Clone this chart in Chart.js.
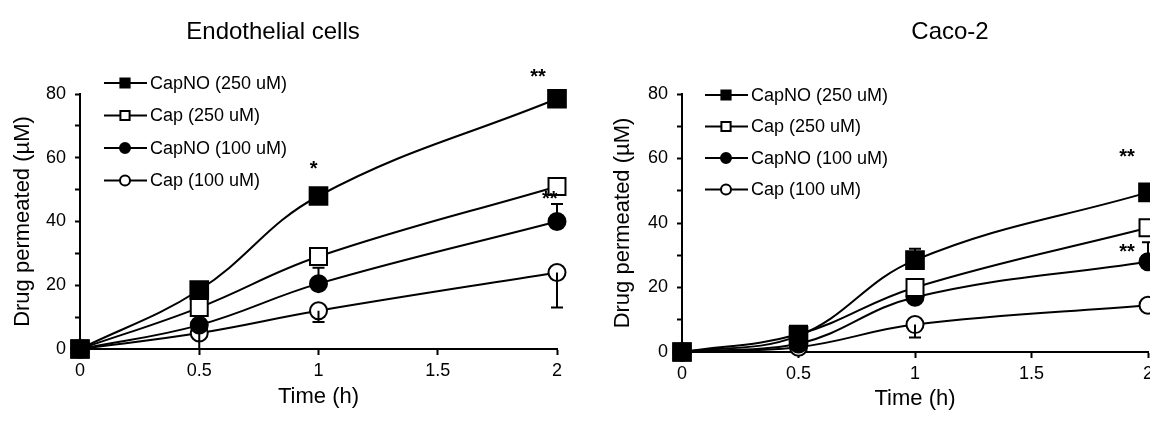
<!DOCTYPE html>
<html>
<head>
<meta charset="utf-8">
<script src="https://cdn.jsdelivr.net/npm/chart.js@4.4.1/dist/chart.umd.min.js"></script>
<style>
  html, body { margin: 0; padding: 0; background: #fff; overflow: hidden; width: 1150px; height: 423px; }
  #wrap { position: relative; width: 1150px; height: 423px; overflow: hidden; }
  canvas { position: absolute; top: 0; }
  #left { left: 0; }
  #right { left: 580px; }
</style>
</head>
<body>
<div id="wrap">
  <canvas id="left" width="580" height="423"></canvas>
  <canvas id="right" width="620" height="423"></canvas>
</div>
<script>
// shared
const times = [0, 0.5, 1, 2];
const seriesNames = ['CapNO (250 uM)', 'Cap (250 uM)', 'CapNO (100 uM)', 'Cap (100 uM)'];
const xTicks = [0, 0.5, 1, 1.5, 2];
const yLabelStep = 20;

// Endothelial cells
const endoCapNO250 = [0, 18.5, 48, 78.5];
const endoCap250 = [0, 13, 29, 51];
const endoCapNO100 = [0, 7.5, 20.5, 40];
const endoCap100 = [0, 5, 12, 24];
const endoCapNO100Upper = [null, null, 25.5, 45.5];
const endoCap100Lower = [null, 0, 8.5, 13];
const endoStars = [
    { x: 0.98, y: 58, text: '*' },
    { x: 1.92, y: 87, text: '**' },
    { x: 1.97, y: 48.5, text: '**' },
];

// Caco-2
const cacoCapNO250 = [0, 5, 28.5, 49.5];
const cacoCap250 = [0, 5.5, 20, 38.5];
const cacoCapNO100 = [0, 2.5, 17, 28];
const cacoCap100 = [0, 1.5, 8.5, 14.5];
const cacoCapNO250Upper = [null, null, 32, null];
const cacoCapNO100Upper = [null, null, null, 34];
const cacoCap100Lower = [null, null, 4.5, null];
const cacoStars = [
    { x: 1.91, y: 62, text: '**' },
    { x: 1.91, y: 32.5, text: '**' },
];

const FONT = "'Liberation Sans', Arial, sans-serif";

const markerStyles = [
    { pointStyle: 'rect', fill: '#000', radius: 12.5, legendRadius: 6.5 },
    { pointStyle: 'rect', fill: '#fff', radius: 12, legendRadius: 6.5 },
    { pointStyle: 'circle', fill: '#000', radius: 8.5, legendRadius: 5 },
    { pointStyle: 'circle', fill: '#fff', radius: 8.5, legendRadius: 5 },
];

function makeDatasets(values, uppers, lowers) {
    return values.map((vals, i) => {
        const m = markerStyles[i];
        return {
            label: seriesNames[i],
            data: times.map((t, j) => ({ x: t, y: vals[j] })),
            borderColor: '#000',
            borderWidth: 2,
            tension: 0.4,
            pointStyle: m.pointStyle,
            pointRadius: m.radius,
            pointBackgroundColor: m.fill,
            pointBorderColor: '#000',
            pointBorderWidth: 2,
            clip: false,
            errUpper: uppers[i] || null,
            errLower: lowers[i] || null,
        };
    });
}

const decorPlugin = {
    id: 'decor',
    afterDatasetsDraw(chart, args, opts) {
        const ctx = chart.ctx;
        const xs = chart.scales.x;
        const ys = chart.scales.y;
        ctx.save();
        ctx.strokeStyle = '#000';
        ctx.lineWidth = 2;
        // error bars
        chart.data.datasets.forEach((ds) => {
            [ds.errUpper, ds.errLower].forEach((arr) => {
                if (!arr) return;
                arr.forEach((e, j) => {
                    if (e === null) return;
                    const px = xs.getPixelForValue(times[j]);
                    const py = ys.getPixelForValue(ds.data[j].y);
                    const pe = ys.getPixelForValue(e);
                    ctx.beginPath();
                    ctx.moveTo(px, py);
                    ctx.lineTo(px, pe);
                    ctx.moveTo(px - 6, pe);
                    ctx.lineTo(px + 6, pe);
                    ctx.stroke();
                });
            });
        });
        // significance stars
        ctx.fillStyle = '#000';
        ctx.font = 'bold 20px ' + FONT;
        ctx.textAlign = 'center';
        ctx.textBaseline = 'alphabetic';
        opts.stars.forEach((s) => {
            ctx.fillText(s.text, xs.getPixelForValue(s.x), ys.getPixelForValue(s.y) + 11);
        });
        // panel title
        ctx.font = '24px ' + FONT;
        ctx.textBaseline = 'middle';
        ctx.fillText(opts.title, opts.titleX, opts.titleY);
        // legend
        const area = chart.chartArea;
        ctx.font = '18px ' + FONT;
        ctx.textAlign = 'left';
        chart.data.datasets.forEach((ds, i) => {
            const lx = area.left + opts.legendDx;
            const ly = area.top + opts.legendDy + i * opts.legendGap;
            ctx.beginPath();
            ctx.moveTo(lx, ly);
            ctx.lineTo(lx + 43, ly);
            ctx.stroke();
            const m = markerStyles[i];
            ctx.fillStyle = m.fill;
            ctx.strokeStyle = '#000';
            ctx.lineWidth = 2;
            Chart.helpers.drawPoint(ctx, {
                pointStyle: m.pointStyle, radius: m.legendRadius, borderWidth: 2, rotation: 0,
            }, lx + 21, ly);
            ctx.fillStyle = '#000';
            ctx.fillText(ds.label, lx + 46, ly + 1);
        });
        ctx.restore();
    },
};

function makeChart(id, datasets, cfg) {
    return new Chart(document.getElementById(id), {
        type: 'line',
        data: { datasets: datasets },
        plugins: [decorPlugin],
        options: {
            responsive: false,
            animation: false,
            layout: { padding: { top: 94, right: cfg.padRight, left: 0, bottom: 0 } },
            plugins: {
                legend: { display: false },
                tooltip: { enabled: false },
                decor: cfg.decor,
            },
            scales: {
                x: {
                    type: 'linear',
                    min: 0,
                    max: 2,
                    afterBuildTicks: (s) => { s.ticks = xTicks.map((v) => ({ value: v })); },
                    afterFit: (s) => { s.height = cfg.xHeight; },
                    ticks: {
                        color: '#000',
                        font: { family: FONT, size: 18 },
                        padding: 5,
                        maxRotation: 0,
                        callback: (v) => String(v),
                    },
                    grid: { drawOnChartArea: false, drawTicks: true, tickLength: 6, tickColor: '#000', tickWidth: 2 },
                    border: { display: true, color: '#000', width: 2 },
                    title: {
                        display: true, text: 'Time (h)', color: '#000',
                        font: { family: FONT, size: 22 }, padding: { top: 0, bottom: cfg.xTitlePad },
                    },
                },
                y: {
                    min: 0,
                    max: 80,
                    afterFit: (s) => { s.width = cfg.yWidth; },
                    ticks: {
                        stepSize: 5,
                        color: '#000',
                        font: { family: FONT, size: 18 },
                        padding: 9,
                        callback: (v) => (v % yLabelStep === 0 ? String(v) : ''),
                    },
                    grid: { drawOnChartArea: false, drawTicks: true, tickLength: 5, tickColor: '#000', tickWidth: 2 },
                    border: { display: true, color: '#000', width: 2 },
                    title: {
                        display: true, text: 'Drug permeated (µM)', color: '#000',
                        font: { family: FONT, size: 22 }, padding: { top: cfg.yTitlePad, bottom: 0 },
                    },
                },
            },
        },
    });
}

makeChart('left',
    makeDatasets([endoCapNO250, endoCap250, endoCapNO100, endoCap100],
        [null, null, endoCapNO100Upper, null],
        [null, null, null, endoCap100Lower]),
    {
        padRight: 23, xHeight: 74, yWidth: 80, xTitlePad: 13, yTitlePad: 10,
        decor: {
            title: 'Endothelial cells', titleX: 273, titleY: 32,
            legendDx: 24, legendDy: -11, legendGap: 32.5, stars: endoStars,
        },
    });

makeChart('right',
    makeDatasets([cacoCapNO250, cacoCap250, cacoCapNO100, cacoCap100],
        [cacoCapNO250Upper, null, cacoCapNO100Upper, null],
        [null, null, null, cacoCap100Lower]),
    {
        padRight: 52, xHeight: 71, yWidth: 102, xTitlePad: 11, yTitlePad: 30,
        decor: {
            title: 'Caco-2', titleX: 370, titleY: 32,
            legendDx: 23, legendDy: 1, legendGap: 31.5, stars: cacoStars,
        },
    });
</script>
</body>
</html>
